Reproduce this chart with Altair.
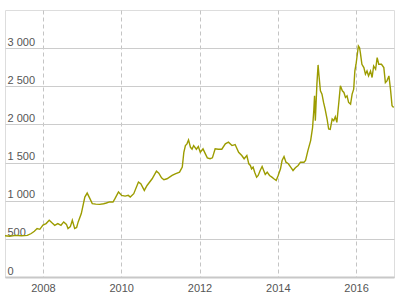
import altair as alt
import pandas as pd

years = [
    2007.03, 2007.15, 2007.3, 2007.45, 2007.6, 2007.7, 2007.78, 2007.85, 2007.92,
    2008.0, 2008.08, 2008.16, 2008.23, 2008.3, 2008.38, 2008.46, 2008.53, 2008.6,
    2008.64, 2008.7, 2008.75, 2008.81, 2008.86, 2008.9, 2008.98,
    2009.07, 2009.13, 2009.2, 2009.26, 2009.35, 2009.45, 2009.55, 2009.62, 2009.7,
    2009.79, 2009.84, 2009.93,
    2010.01, 2010.1, 2010.18, 2010.23, 2010.32, 2010.44, 2010.5, 2010.59, 2010.66,
    2010.79, 2010.9, 2010.96,
    2011.03, 2011.09, 2011.17, 2011.3, 2011.38, 2011.49, 2011.56, 2011.6, 2011.64,
    2011.68, 2011.72, 2011.77, 2011.81, 2011.85, 2011.92, 2011.97,
    2012.02, 2012.09, 2012.15, 2012.2, 2012.27, 2012.33, 2012.4, 2012.48, 2012.57,
    2012.66, 2012.74, 2012.83, 2012.91,
    2013.0, 2013.08, 2013.14, 2013.21, 2013.26, 2013.3, 2013.33, 2013.37, 2013.41,
    2013.46, 2013.5, 2013.55, 2013.6, 2013.64, 2013.68, 2013.73, 2013.79, 2013.85,
    2013.9, 2013.96,
    2014.01, 2014.07, 2014.11, 2014.16, 2014.21, 2014.27, 2014.33, 2014.39, 2014.45,
    2014.52, 2014.58, 2014.67, 2014.71, 2014.77, 2014.84, 2014.89, 2014.92, 2014.94,
    2014.96,
    2015.0, 2015.03, 2015.05, 2015.09, 2015.13, 2015.17, 2015.21, 2015.26, 2015.3,
    2015.34, 2015.39, 2015.43, 2015.47, 2015.51, 2015.56, 2015.6, 2015.65, 2015.69,
    2015.73, 2015.77, 2015.81, 2015.86, 2015.9, 2015.94, 2015.97,
    2016.0, 2016.06, 2016.09, 2016.11, 2016.15, 2016.2, 2016.24, 2016.28, 2016.32,
    2016.37, 2016.41, 2016.45, 2016.5, 2016.54, 2016.58, 2016.65, 2016.71, 2016.75,
    2016.79, 2016.84, 2016.88, 2016.92, 2016.96,
]

values = [
    540, 535, 545, 540, 545, 570, 600, 635, 625,
    680, 700, 744, 710, 678, 700, 678, 722, 690,
    635, 660, 744, 635, 650, 722, 831,
    1048, 1100, 1027, 962, 955, 952, 960, 970, 985,
    983, 1027, 1114,
    1070, 1060, 1070, 1048, 1092, 1244, 1222, 1135, 1200,
    1288, 1387, 1360,
    1300, 1275, 1288, 1331, 1353, 1374, 1440, 1635, 1723,
    1745, 1797, 1700, 1675, 1723, 1675, 1710,
    1635, 1680, 1614, 1562, 1550, 1562, 1680, 1675, 1675,
    1745, 1767, 1723, 1736,
    1635, 1592, 1550, 1592, 1484, 1462, 1418, 1440, 1374,
    1309, 1331, 1396, 1448, 1396, 1344, 1374, 1331, 1309,
    1288, 1266,
    1331, 1418, 1527, 1579, 1505, 1484, 1440, 1396, 1431,
    1462, 1505, 1505, 1527, 1657, 1788, 1962, 2180, 2375,
    2049,
    2528, 2780, 2658, 2440, 2397, 2288, 2201, 2071, 1940,
    1936, 2071, 2049, 2101, 2027, 2288, 2506, 2440, 2419,
    2353, 2375, 2288, 2266, 2397, 2462, 2701,
    2789, 3028, 3006, 2940, 2789, 2745, 2658, 2701, 2636,
    2701, 2615, 2766, 2723, 2875, 2789, 2789, 2745, 2549,
    2571, 2636, 2462, 2245, 2223,
]

x_ticks = [2008, 2010, 2012, 2014, 2016]
y_ticks = [0, 500, 1000, 1500, 2000, 2500, 3000]

df = pd.DataFrame({"year": years, "value": values})

chart = alt.Chart(df).mark_line(color="#9c9c00", strokeWidth=1.4).encode(
    x=alt.X(
        "year:Q",
        scale=alt.Scale(domain=[2007.03, 2016.97], nice=False, zero=False),
        axis=alt.Axis(
            title=None,
            values=x_ticks,
            format="d",
            grid=True,
            gridColor="#c4c4c4",
            gridDash=[4, 3],
            gridWidth=1,
            domain=True,
            domainColor="#c8c8c8",
            domainWidth=2,
            ticks=False,
            labelPadding=5,
            labelFlush=False,
            labelFont="Liberation Sans",
            labelFontSize=11,
            labelColor="#555555",
        ),
    ),
    y=alt.Y(
        "value:Q",
        scale=alt.Scale(domain=[0, 3500], nice=False),
        axis=alt.Axis(
            title=None,
            values=y_ticks,
            grid=True,
            gridColor="#cccccc",
            gridWidth=1.2,
            domain=False,
            ticks=False,
            tickSize=0,
            labelAlign="left",
            labelBaseline="bottom",
            labelPadding=-2,
            labelOffset=-1,
            labelExpr="replace(format(datum.value, ','), ',', ' ')",
            labelFont="Liberation Sans",
            labelFontSize=11,
            labelColor="#555555",
        ),
    ),
).properties(
    width=389,
    height=267,
    autosize=alt.AutoSizeParams(type="none"),
    padding={"left": 5, "top": 10, "right": 6, "bottom": 18},
).configure_view(
    stroke="#cccccc",
    strokeWidth=1.5,
).configure(background="white")

chart.save("out.html", embed_options={"renderer": "svg", "actions": False})
